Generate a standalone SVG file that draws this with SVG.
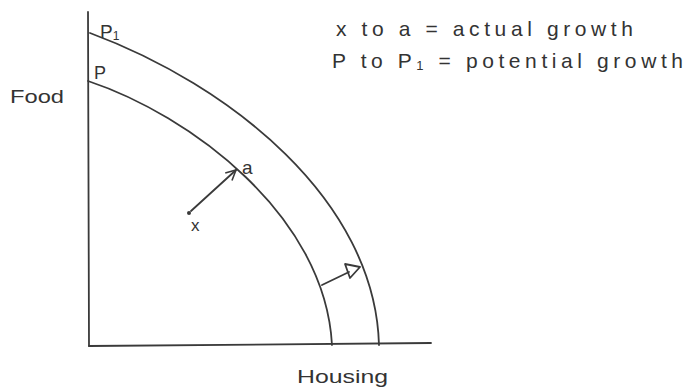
<svg xmlns="http://www.w3.org/2000/svg" width="689" height="389" viewBox="0 0 689 389">
<defs>
<style>
.ln{fill:none;stroke:#3a3a3a;stroke-width:1.8;stroke-linecap:round;stroke-linejoin:round}
.t{font-family:"Liberation Sans",Arial,sans-serif;fill:#333}
</style>
<marker id="vhead" viewBox="0 0 12 12" refX="11" refY="6" markerWidth="12" markerHeight="12" markerUnits="userSpaceOnUse" orient="auto">
<path d="M1,1 L11,6 L1,11" fill="none" stroke="#3a3a3a" stroke-width="1.6"/>
</marker>
</defs>
<rect width="689" height="389" fill="#fff"/>
<g id="axes">
<path class="ln" d="M88,12 L89,346"/>
<path class="ln" d="M89,346 L431,343"/>
</g>
<g id="curves">
<path id="p1-curve" class="ln" d="M90,33 C230,85 375,200 379,345"/>
<path id="p-curve" class="ln" d="M88,81 C190,115 325,215 332,345"/>
</g>
<g id="connectors">
<circle cx="189" cy="213" r="2" fill="#3a3a3a"/>
<path class="ln" d="M191,211 L236,170" marker-end="url(#vhead)"/>
<path class="ln" d="M322,285 L349,272"/>
<path class="ln" d="M345,264 L360,267 L350,278 Z"/>
</g>
<g id="labels">
<text class="t" x="100" y="38" font-size="19">P<tspan font-size="12" dy="2">1</tspan></text>
<text class="t" x="94" y="79" font-size="18">P</text>
<text class="t" x="10" y="103" font-size="19" textLength="54" lengthAdjust="spacingAndGlyphs">Food</text>
<text class="t" x="242" y="174" font-size="19">a</text>
<text class="t" x="191" y="231" font-size="17">x</text>
<text class="t" x="297" y="383" font-size="19" textLength="91" lengthAdjust="spacingAndGlyphs">Housing</text>
<text class="t" x="336" y="36" font-size="21" textLength="297" lengthAdjust="spacing">x to a = actual growth</text>
<text class="t" x="332" y="68" font-size="21" textLength="351" lengthAdjust="spacing">P to P<tspan font-size="13" dy="2">1</tspan><tspan dy="-2"> = potential growth</tspan></text>
</g>
</svg>
